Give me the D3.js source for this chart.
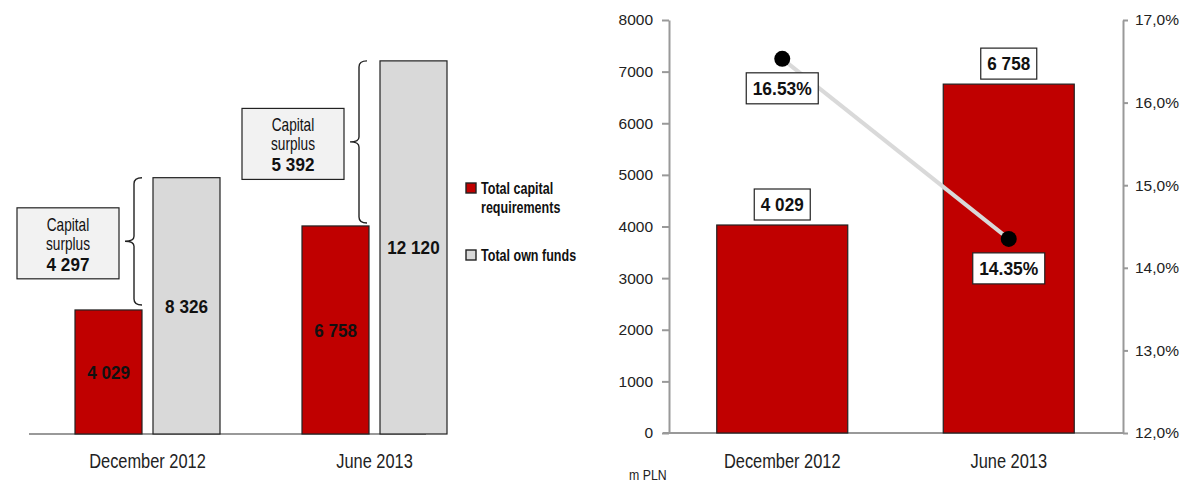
<!DOCTYPE html>
<html>
<head>
<meta charset="utf-8">
<script src="https://cdn.jsdelivr.net/npm/d3@7"></script>
<style>
  body { margin: 0; background: #fff; }
  svg { display: block; font-family: "Liberation Sans", Arial, sans-serif; }
  .axis path, .axis line { stroke: #999; stroke-width: 2; }
  .axis text { fill: #222; font-size: 15.5px; font-family: "Liberation Sans", Arial, sans-serif; }
</style>
</head>
<body>
<div id="chart"></div>
<script>
'use strict';
var categories = ['December 2012', 'June 2013'];
var capitalReq = [4029, 6758];
var ownFunds = [8326, 12120];
var surplus = [4297, 5392];
var ratio = [16.53, 14.35];
var leftTicks = [0, 1000, 2000, 3000, 4000, 5000, 6000, 7000, 8000];
var rightTicks = [12, 13, 14, 15, 16, 17];
var legendLabels = [['Total capital', 'requirements'], ['Total own funds']];

var RED = '#c00000', GREY = '#d9d9d9', EDGE = '#222';
var loc = d3.formatLocale({decimal: ',', thousands: ' ', grouping: [3], currency: ['', '']});
var fmtNum = loc.format(',d');
var fmtPct = function(v) { return loc.format('.1f')(v) + '%'; };

var svg = d3.select('#chart').append('svg')
    .attr('width', 1185)
    .attr('height', 483);

// squeezed text, the original uses a condensed face
function label(parent, x, y, str, size, sx, bold, anchor) {
  var t = parent.append('g')
      .attr('transform', 'translate(' + x + ',' + y + ') scale(' + sx + ',1)')
    .append('text')
      .attr('text-anchor', anchor || 'middle')
      .attr('font-size', size)
      .attr('fill', '#111')
      .text(str);
  if (bold) t.attr('font-weight', 'bold');
  return t;
}

// ---------- left chart ----------
var y0 = d3.scaleLinear().domain([0, 14000]).range([434, 3]);
var x0 = d3.scaleBand().domain(categories).range([34, 488]);
var x1 = d3.scaleBand().domain([0, 1])
    .range([x0.bandwidth() / 2 - 72.5, x0.bandwidth() / 2 + 72.5])
    .paddingInner(0.141);

var left = svg.append('g');

left.append('line')
    .attr('x1', 29).attr('x2', 426)
    .attr('y1', y0(0)).attr('y2', y0(0))
    .attr('stroke', '#999').attr('stroke-width', 2);

categories.forEach(function(c, i) {
  var g = left.append('g').attr('transform', 'translate(' + x0(c) + ',0)');
  var vals = [capitalReq[i], ownFunds[i]];
  vals.forEach(function(v, j) {
    g.append('rect')
        .attr('x', x1(j)).attr('y', y0(v))
        .attr('width', x1.bandwidth()).attr('height', y0(0) - y0(v))
        .attr('fill', j === 0 ? RED : GREY)
        .attr('stroke', EDGE).attr('stroke-width', 1.2);
    label(g, x1(j) + x1.bandwidth() / 2, (y0(v) + y0(0)) / 2 + 7, fmtNum(v), 19, 0.9, true);
  });

  // curly brace between the two tops
  var bx = x1(0) + x1.bandwidth() - 8 - i * 2;
  var top = y0(ownFunds[i]);
  var bot = y0(capitalReq[i]) - 5 + i * 2;
  var mid = (top + bot) / 2;
  var p = d3.path();
  p.moveTo(bx + 8, top);
  p.quadraticCurveTo(bx, top, bx, top + 6);
  p.lineTo(bx, mid - 5);
  p.quadraticCurveTo(bx, mid, bx - 9, mid);
  p.quadraticCurveTo(bx, mid, bx, mid + 5);
  p.lineTo(bx, bot - 6);
  p.quadraticCurveTo(bx, bot, bx + 8, bot);
  g.append('path').attr('d', p.toString())
      .attr('fill', 'none').attr('stroke', EDGE).attr('stroke-width', 1.4);

  // surplus box
  var bw = 102, bh = 71;
  var bxr = bx - 9 - 6;
  var bc = mid + 2;
  g.append('rect')
      .attr('x', bxr - bw).attr('y', bc - bh / 2)
      .attr('width', bw).attr('height', bh)
      .attr('fill', '#f2f2f2').attr('stroke', EDGE).attr('stroke-width', 1.2);
  var tx = bxr - bw / 2;
  label(g, tx, bc - 12.5, 'Capital', 17.5, 0.78, false);
  label(g, tx, bc + 6.5, 'surplus', 17.5, 0.78, false);
  label(g, tx, bc + 27.5, fmtNum(surplus[i]), 18, 0.95, true);

  label(left, x0(c) + x0.bandwidth() / 2, 468, c, 20.5, 0.8, false).attr('fill', '#222');
});

// legend
var legendY = [183, 250];
legendLabels.forEach(function(lines, i) {
  var lg = left.append('g').attr('transform', 'translate(466,' + legendY[i] + ')');
  lg.append('rect').attr('width', 10).attr('height', 10)
      .attr('fill', i === 0 ? RED : GREY).attr('stroke', EDGE).attr('stroke-width', 1.4);
  lines.forEach(function(t, k) {
    label(lg, 15, 10.5 + k * 19, t, 16.5, 0.76, true, 'start');
  });
});

// ---------- right chart ----------
var yL = d3.scaleLinear().domain([0, 8000]).range([433, 20]);
var yR = d3.scaleLinear().domain([12, 17]).range([433, 20]);
var xR = d3.scaleBand().domain(categories).range([669, 1122])
    .paddingInner(0.4216).paddingOuter(0.2108);

var right = svg.append('g');

right.append('g').attr('class', 'axis')
    .attr('transform', 'translate(669,0)')
    .call(d3.axisLeft(yL).tickValues(leftTicks).tickSize(7).tickSizeOuter(0).tickPadding(9).tickFormat(d3.format('d')))
    .call(function(g) { g.selectAll('.tick line').attr('stroke-width', 1.5); });

right.append('g').attr('class', 'axis')
    .attr('transform', 'translate(1123,0)')
    .call(d3.axisRight(yR).tickValues(rightTicks).tickSize(5).tickSizeOuter(0).tickPadding(7).tickFormat(fmtPct))
    .call(function(g) { g.selectAll('.tick line').attr('stroke-width', 1.5); });

right.append('line')
    .attr('x1', 663).attr('x2', 1123)
    .attr('y1', yL(0)).attr('y2', yL(0))
    .attr('stroke', '#999').attr('stroke-width', 2);

categories.forEach(function(c, i) {
  var cx = xR(c) + xR.bandwidth() / 2;
  right.append('rect')
      .attr('x', xR(c)).attr('y', yL(capitalReq[i]))
      .attr('width', xR.bandwidth()).attr('height', yL(0) - yL(capitalReq[i]))
      .attr('fill', RED).attr('stroke', EDGE).attr('stroke-width', 1.2);
  var by = yL(capitalReq[i]) - 5;
  right.append('rect')
      .attr('x', cx - 28).attr('y', by - 31).attr('width', 56).attr('height', 31)
      .attr('fill', '#fff').attr('stroke', EDGE).attr('stroke-width', 1.2);
  label(right, cx, by - 9, fmtNum(capitalReq[i]), 18, 0.95, true);
  label(right, cx, 468, c, 20.5, 0.8, false).attr('fill', '#222');
});

var line = d3.line()
    .x(function(d, i) { return xR(categories[i]) + xR.bandwidth() / 2; })
    .y(function(d) { return yR(d); });

right.append('path').datum(ratio)
    .attr('d', line)
    .attr('fill', 'none').attr('stroke', '#d9d9d9').attr('stroke-width', 4);

ratio.forEach(function(v, i) {
  var cx = xR(categories[i]) + xR.bandwidth() / 2;
  var cy = yR(v);
  right.append('circle').attr('cx', cx).attr('cy', cy).attr('r', 8).attr('fill', '#000');
  right.append('rect')
      .attr('x', cx - 36).attr('y', cy + 14).attr('width', 72).attr('height', 31)
      .attr('fill', '#fff').attr('stroke', EDGE).attr('stroke-width', 1.2);
  label(right, cx, cy + 36, v.toFixed(2) + '%', 18, 0.97, true);
});

label(right, 629, 480, 'm PLN', 14, 0.88, false, 'start').attr('fill', '#222');
</script>
</body>
</html>
